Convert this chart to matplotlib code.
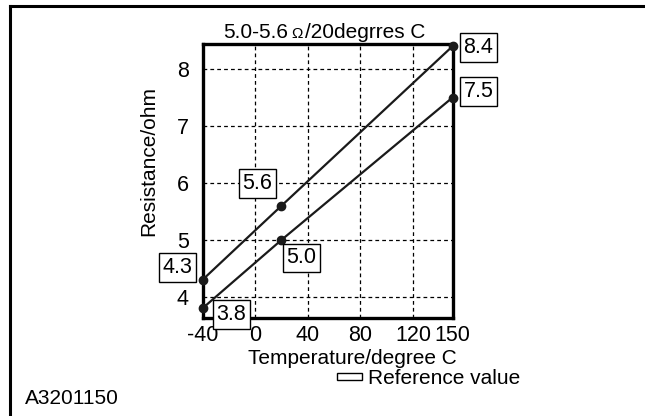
import matplotlib
matplotlib.use("Agg")
import matplotlib.pyplot as plt
from matplotlib.lines import Line2D
from matplotlib.patches import Rectangle

plt.rcParams['font.family'] = ['Liberation Sans', 'DejaVu Sans']
plt.rcParams['axes.unicode_minus'] = False

# data
temps = [-40, 20, 150]
upper = [4.3, 5.6, 8.4]
lower = [3.8, 5.0, 7.5]
xticks = [-40, 0, 40, 80, 120, 150]
yticks = [4, 5, 6, 7, 8]
grid_x = [0, 40, 80, 120]

W, H = 645, 416
fig = plt.figure(figsize=(W / 100, H / 100), dpi=100)
ax = fig.add_axes([202.5 / W, 1 - 318 / H, 250 / W, 274 / H])
ax.set_xlim(-40, 150)
ax.set_ylim(3.63, 8.44)

for gx in grid_x:
    ax.axvline(gx, color='black', lw=0.9, ls=(0, (3, 2.5)), zorder=1)
for gy in yticks:
    ax.axhline(gy, color='black', lw=0.9, ls=(0, (3, 2.5)), zorder=1)

ax.plot(temps, upper, color='#1a1a1a', lw=1.6, marker='o', ms=6, clip_on=False, zorder=3)
ax.plot(temps, lower, color='#1a1a1a', lw=1.6, marker='o', ms=6, clip_on=False, zorder=3)

# value labels (offsets in pixels from each point)
up_off = [(-25, 12), (-24, 22), (26, -1)]
lo_off = [(29, -6), (20, -18), (26, 6)]
box = dict(boxstyle='square,pad=0.18', fc='white', ec='black', lw=1)
for xs, ys, offs in [(temps, upper, up_off), (temps, lower, lo_off)]:
    for x, y, o in zip(xs, ys, offs):
        ax.annotate(f"{y:.1f}", (x, y), xytext=o, textcoords='offset pixels',
                    ha='center', va='center', fontsize=15.5, bbox=box,
                    annotation_clip=False, zorder=4)

ax.set_xticks(xticks)
ax.set_yticks(yticks)
ax.tick_params(length=0, labelsize=15.5)
ax.tick_params(axis='y', pad=10)
ax.tick_params(axis='x', pad=5)
for s in ax.spines.values():
    s.set_linewidth(2.4)

ax.set_ylabel('Resistance/ohm', fontsize=15)
ax.yaxis.set_label_coords(-0.178, 0.573)
ax.set_xlabel('Temperature/degree C', fontsize=15)
ax.xaxis.set_label_coords(0.6, -0.112)

# title pieces
fig.text(288 / W, 1 - 33 / H, '5.0-5.6', ha='right', va='center', fontsize=15)
fig.text(297 / W, 1 - 34 / H, 'Ω', ha='center', va='center', fontsize=11)
fig.text(305 / W, 1 - 33 / H, '/20degrres C', ha='left', va='center', fontsize=15)

# reference legend
fig.patches.append(Rectangle((337 / W, 1 - 380 / H), 25 / W, 7 / H, transform=fig.transFigure,
                             fc='white', ec='black', lw=1))
fig.text(368 / W, 1 - 378 / H, 'Reference value', ha='left', va='center', fontsize=15)

fig.text(25 / W, 1 - 398 / H, 'A3201150', ha='left', va='center', fontsize=15)

# outer frame
fig.lines.append(Line2D([10 / W, 1], [1 - 6 / H, 1 - 6 / H], transform=fig.transFigure, color='black', lw=2.2))
fig.lines.append(Line2D([10 / W, 10 / W], [0, 1 - 6 / H], transform=fig.transFigure, color='black', lw=2.2))

fig.savefig('out.png', dpi=100)
